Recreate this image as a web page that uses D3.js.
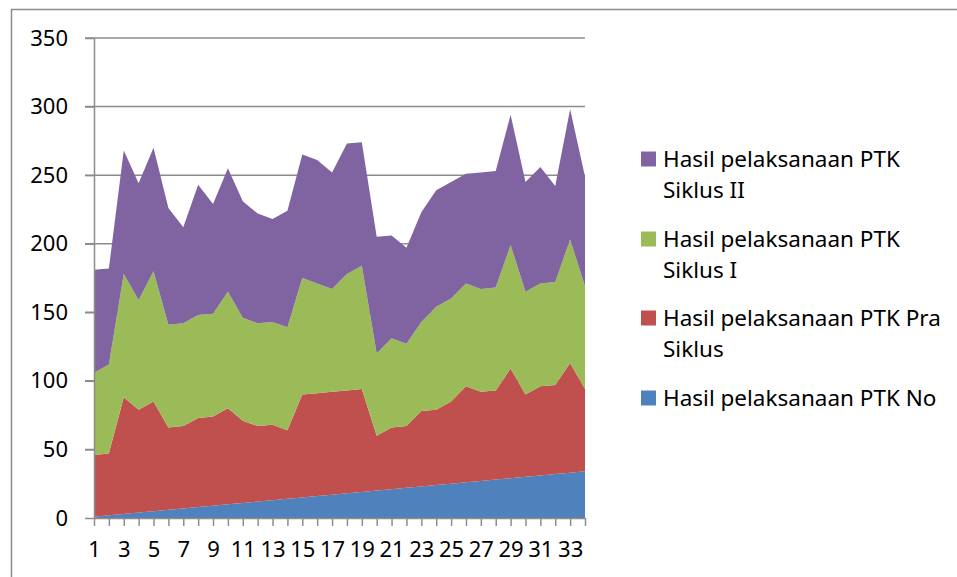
<!DOCTYPE html>
<html>
<head>
<meta charset="utf-8">
<script src="https://cdn.jsdelivr.net/npm/d3@7"></script>
<style>
    body { margin: 0; background: #fff; }
    text { font-family: "Noto Sans", "Open Sans", sans-serif; fill: #000; }
</style>
</head>
<body>
<div id="chart"></div>
<script>
// values
const categories = d3.range(1, 35);
const no = d3.range(1, 35);
const praSiklus = [45, 45, 85, 75, 80, 60, 60, 65, 65, 70, 60, 55, 55, 50, 75, 75, 75,
    75, 75, 40, 45, 45, 55, 55, 60, 70, 65, 65, 80, 60, 65, 65, 80, 60];
const siklus1 = [60, 65, 90, 80, 95, 75, 75, 75, 75, 85, 75, 75, 75, 75, 85, 80, 75,
    85, 90, 60, 65, 60, 65, 75, 75, 75, 75, 75, 90, 75, 75, 75, 90, 75];
const siklus2 = [75, 70, 90, 85, 90, 85, 70, 95, 80, 90, 85, 80, 75, 85, 90, 90, 85,
    95, 90, 85, 75, 70, 80, 85, 85, 80, 85, 85, 95, 80, 85, 70, 95, 80];
const yTicks = [0, 50, 100, 150, 200, 250, 300, 350];

const seriesKeys = ["no", "pra", "s1", "s2"];
// legend lines as wrapped in the reference
const legendLines = {
    s2: ["Hasil pelaksanaan PTK", "Siklus II"],
    s1: ["Hasil pelaksanaan PTK", "Siklus I"],
    pra: ["Hasil pelaksanaan PTK Pra", "Siklus"],
    no: ["Hasil pelaksanaan PTK No"]
};
const colors = {no: "#4f81bd", pra: "#c0504d", s1: "#9bbb59", s2: "#8064a2"};

const data = categories.map((c, i) => ({
    cat: c, no: no[i], pra: praSiklus[i], s1: siklus1[i], s2: siklus2[i]
}));

const width = 957,
    height = 577,
    margin = {top: 38, left: 94, right: 372, bottom: 59};

const svg = d3.select("#chart").append("svg")
    .attr("width", width)
    .attr("height", height);

// chart frame (only the top and left edges are inside the window)
svg.append("rect")
    .attr("x", 11.5).attr("y", 9.5)
    .attr("width", 2000).attr("height", 2000)
    .attr("fill", "none")
    .attr("stroke", "#8c8c8c")
    .attr("stroke-width", 1.5);

const xScale = d3.scaleLinear()
    .domain([1, 34])
    .range([margin.left, width - margin.right]);

const yScale = d3.scaleLinear()
    .domain([0, 350])
    .range([height - margin.bottom, margin.top]);

// gridlines
svg.append("g")
    .selectAll("line")
    .data(yTicks.filter(d => d > 0))
    .join("line")
    .attr("x1", margin.left - 9)
    .attr("x2", width - margin.right)
    .attr("y1", d => yScale(d))
    .attr("y2", d => yScale(d))
    .attr("stroke", "#8c8c8c")
    .attr("stroke-width", 1.5);

const stack = d3.stack().keys(seriesKeys);
const stacked = stack(data);

const area = d3.area()
    .x(d => xScale(d.data.cat))
    .y0(d => yScale(d[0]))
    .y1(d => yScale(d[1]));

svg.append("g")
    .selectAll("path")
    .data(stacked)
    .join("path")
    .attr("d", area)
    .attr("fill", d => colors[d.key]);

// y axis
const yAxis = g => g
    .attr("transform", `translate(${margin.left},0)`)
    .call(d3.axisLeft(yScale)
        .tickValues(yTicks)
        .tickSize(9)
        .tickPadding(17)
        .tickSizeOuter(0));

// x axis
const xAxis = g => g
    .attr("transform", `translate(0,${height - margin.bottom})`)
    .call(d3.axisBottom(xScale)
        .tickValues(categories)
        .tickSize(8)
        .tickPadding(15)
        .tickSizeOuter(0)
        .tickFormat(d => d % 2 === 1 ? d : ""));

[svg.append("g").call(yAxis), svg.append("g").call(xAxis)].forEach(g => {
    g.select(".domain").attr("stroke", "#8c8c8c").attr("stroke-width", 1.5);
    g.selectAll(".tick line").attr("stroke", "#8c8c8c").attr("stroke-width", 1.5);
    g.selectAll(".tick text")
        .style("font-family", '"Noto Sans", sans-serif')
        .style("font-size", "22px")
        .attr("fill", "#000");
});

// legend
const legendOrder = ["s2", "s1", "pra", "no"];
const legendTop = [159, 239, 318, 398];
const legend = svg.append("g");
legendOrder.forEach((k, i) => {
    const g = legend.append("g").attr("transform", `translate(641,${legendTop[i]})`);
    g.append("rect")
        .attr("x", 0).attr("y", -7.5)
        .attr("width", 15).attr("height", 15)
        .attr("fill", colors[k]);
    legendLines[k].forEach((line, j) => {
        g.append("text")
            .attr("x", 22)
            .attr("y", j * 31)
            .attr("dy", "0.35em")
            .style("font-size", "22.5px")
            .text(line);
    });
});
</script>
</body>
</html>
